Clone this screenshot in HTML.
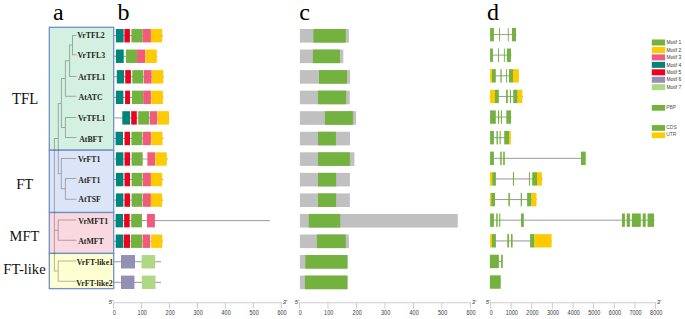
<!DOCTYPE html>
<html><head><meta charset="utf-8"><style>
html,body{margin:0;padding:0;background:#fff;}
body{width:685px;height:319px;overflow:hidden;}
svg{display:block;}
.lb{font-family:"Liberation Serif",serif;font-weight:bold;font-size:7.8px;fill:#231f20;}
.ax{font-family:"Liberation Sans",sans-serif;font-size:7px;fill:#3a3a3a;text-anchor:middle;}
.pr{font-family:"Liberation Sans",sans-serif;font-style:italic;font-size:6px;fill:#333;}
.lg{font-family:"Liberation Sans",sans-serif;font-size:6px;fill:#333;}
.lg2{font-family:"Liberation Sans",sans-serif;font-size:5px;fill:#555;}
.pl{font-family:"Liberation Serif",serif;font-size:24px;fill:#000;}
.gl{font-family:"Liberation Serif",serif;font-size:16px;fill:#111;}
</style></head><body>
<svg width="685" height="319" viewBox="0 0 685 319">
<rect x="0" y="0" width="685" height="319" fill="#fff"/>
<rect x="49.30" y="27.30" width="64.40" height="122.90" fill="#d4f0e1" stroke="#6f90c6" stroke-width="1.3"/>
<rect x="49.30" y="150.20" width="64.40" height="62.30" fill="#dce5f7" stroke="#6f90c6" stroke-width="1.3"/>
<rect x="49.30" y="212.50" width="64.40" height="40.90" fill="#f9d9df" stroke="#6f90c6" stroke-width="1.3"/>
<rect x="49.30" y="253.40" width="64.40" height="35.20" fill="#fefed3" stroke="#6f90c6" stroke-width="1.3"/>
<path d="M72.00 34.90H76.40V35.90H72.00ZM72.00 54.30H76.40V55.30H72.00ZM72.00 34.90H73.00V55.30H72.00ZM69.10 44.60H73.00V45.60H69.10ZM69.10 75.90H76.40V76.90H69.10ZM69.10 44.60H70.10V76.90H69.10ZM64.90 60.25H70.10V61.25H64.90ZM64.90 95.80H76.40V96.80H64.90ZM64.90 60.25H65.90V96.80H64.90ZM60.90 78.03H65.90V79.03H60.90ZM64.90 116.90H76.40V117.90H64.90ZM64.90 136.90H76.40V137.90H64.90ZM64.90 116.90H65.90V137.90H64.90ZM60.90 126.90H65.90V127.90H60.90ZM60.90 78.03H61.90V127.90H60.90ZM57.80 102.90H61.90V103.90H57.80ZM64.90 177.90H76.40V178.90H64.90ZM64.90 198.80H76.40V199.80H64.90ZM64.90 177.90H65.90V199.80H64.90ZM60.80 188.35H65.90V189.35H60.80ZM60.80 158.00H76.40V159.00H60.80ZM60.80 158.00H61.80V189.35H60.80ZM57.80 173.18H61.80V174.18H57.80ZM57.80 102.90H58.80V174.18H57.80ZM53.90 138.04H58.80V139.04H53.90ZM57.70 219.50H76.40V220.50H57.70ZM57.70 239.80H76.40V240.80H57.70ZM57.70 219.50H58.70V240.80H57.70ZM53.90 229.65H58.70V230.65H53.90ZM57.70 260.40H76.40V261.40H57.70ZM57.70 280.80H76.40V281.80H57.70ZM57.70 260.40H58.70V281.80H57.70ZM53.90 270.60H58.70V271.60H53.90ZM53.90 138.04H54.90V271.60H53.90Z" fill="#000000" fill-opacity="0.29"/>
<text x="77.18" y="38" class="lb">VrTFL2</text>
<text x="77.49" y="58" class="lb">VrTFL3</text>
<text x="78.21" y="80" class="lb">AtTFL1</text>
<text x="78.55" y="100" class="lb">AtATC</text>
<text x="77.94" y="121" class="lb">VrTFL1</text>
<text x="79.19" y="142" class="lb">AtBFT</text>
<text x="77.98" y="162" class="lb">VrFT1</text>
<text x="78.34" y="183" class="lb">AtFT1</text>
<text x="78.25" y="202" class="lb">AtTSF</text>
<text x="78.34" y="224" class="lb">VrMFT1</text>
<text x="78.19" y="244" class="lb">AtMFT</text>
<text x="76.68" y="265" class="lb">VrFT-like1</text>
<text x="76.27" y="286" class="lb">VrFT-like2</text>
<line x1="114.00" y1="35.70" x2="163.00" y2="35.70" stroke="#8c8c8c" stroke-width="0.9"/>
<rect x="115.90" y="29.00" width="7.70" height="13.40" fill="#00857a"/>
<rect x="124.40" y="29.00" width="5.50" height="13.40" fill="#eb0220"/>
<rect x="131.40" y="29.00" width="11.30" height="13.40" fill="#73b23e"/>
<rect x="142.80" y="29.00" width="8.10" height="13.40" fill="#ef5a7d"/>
<rect x="150.90" y="29.00" width="11.30" height="13.40" fill="#fdcb00"/>
<line x1="114.00" y1="56.25" x2="157.30" y2="56.25" stroke="#8c8c8c" stroke-width="0.9"/>
<rect x="115.90" y="49.55" width="7.80" height="13.40" fill="#00857a"/>
<rect x="125.90" y="49.55" width="11.20" height="13.40" fill="#73b23e"/>
<rect x="137.10" y="49.55" width="7.90" height="13.40" fill="#ef5a7d"/>
<rect x="145.30" y="49.55" width="11.50" height="13.40" fill="#fdcb00"/>
<line x1="114.00" y1="76.80" x2="163.90" y2="76.80" stroke="#8c8c8c" stroke-width="0.9"/>
<rect x="116.80" y="70.10" width="7.30" height="13.40" fill="#00857a"/>
<rect x="125.20" y="70.10" width="5.70" height="13.40" fill="#eb0220"/>
<rect x="132.30" y="70.10" width="11.10" height="13.40" fill="#73b23e"/>
<rect x="143.90" y="70.10" width="7.70" height="13.40" fill="#ef5a7d"/>
<rect x="152.00" y="70.10" width="11.30" height="13.40" fill="#fdcb00"/>
<line x1="114.00" y1="97.35" x2="163.60" y2="97.35" stroke="#8c8c8c" stroke-width="0.9"/>
<rect x="115.90" y="90.65" width="7.50" height="13.40" fill="#00857a"/>
<rect x="125.10" y="90.65" width="4.90" height="13.40" fill="#eb0220"/>
<rect x="131.90" y="90.65" width="11.30" height="13.40" fill="#73b23e"/>
<rect x="143.20" y="90.65" width="7.70" height="13.40" fill="#ef5a7d"/>
<rect x="151.30" y="90.65" width="11.60" height="13.40" fill="#fdcb00"/>
<line x1="114.00" y1="117.90" x2="169.20" y2="117.90" stroke="#c3c3c3" stroke-width="1.7"/>
<rect x="122.30" y="111.20" width="7.80" height="13.40" fill="#00857a"/>
<rect x="131.20" y="111.20" width="5.60" height="13.40" fill="#eb0220"/>
<rect x="138.20" y="111.20" width="11.00" height="13.40" fill="#73b23e"/>
<rect x="149.80" y="111.20" width="7.50" height="13.40" fill="#ef5a7d"/>
<rect x="157.70" y="111.20" width="11.30" height="13.40" fill="#fdcb00"/>
<line x1="114.00" y1="138.45" x2="163.60" y2="138.45" stroke="#8c8c8c" stroke-width="0.9"/>
<rect x="115.60" y="131.75" width="7.40" height="13.40" fill="#00857a"/>
<rect x="124.50" y="131.75" width="5.50" height="13.40" fill="#eb0220"/>
<rect x="131.40" y="131.75" width="11.00" height="13.40" fill="#73b23e"/>
<rect x="142.90" y="131.75" width="8.00" height="13.40" fill="#ef5a7d"/>
<rect x="151.20" y="131.75" width="11.30" height="13.40" fill="#fdcb00"/>
<line x1="114.00" y1="159.00" x2="167.80" y2="159.00" stroke="#c3c3c3" stroke-width="1.7"/>
<rect x="115.90" y="152.30" width="7.50" height="13.40" fill="#00857a"/>
<rect x="124.50" y="152.30" width="5.50" height="13.40" fill="#eb0220"/>
<rect x="131.60" y="152.30" width="11.10" height="13.40" fill="#73b23e"/>
<rect x="147.40" y="152.30" width="7.70" height="13.40" fill="#ef5a7d"/>
<rect x="155.40" y="152.30" width="11.40" height="13.40" fill="#fdcb00"/>
<line x1="114.00" y1="179.55" x2="163.30" y2="179.55" stroke="#8c8c8c" stroke-width="0.9"/>
<rect x="115.90" y="172.85" width="7.50" height="13.40" fill="#00857a"/>
<rect x="124.50" y="172.85" width="5.50" height="13.40" fill="#eb0220"/>
<rect x="131.60" y="172.85" width="10.80" height="13.40" fill="#73b23e"/>
<rect x="142.90" y="172.85" width="8.00" height="13.40" fill="#ef5a7d"/>
<rect x="150.90" y="172.85" width="11.30" height="13.40" fill="#fdcb00"/>
<line x1="114.00" y1="200.10" x2="163.30" y2="200.10" stroke="#8c8c8c" stroke-width="0.9"/>
<rect x="115.90" y="193.40" width="7.50" height="13.40" fill="#00857a"/>
<rect x="124.50" y="193.40" width="5.50" height="13.40" fill="#eb0220"/>
<rect x="131.60" y="193.40" width="10.80" height="13.40" fill="#73b23e"/>
<rect x="142.90" y="193.40" width="8.00" height="13.40" fill="#ef5a7d"/>
<rect x="150.90" y="193.40" width="11.30" height="13.40" fill="#fdcb00"/>
<line x1="114.00" y1="220.65" x2="269.90" y2="220.65" stroke="#8c8c8c" stroke-width="0.9"/>
<rect x="115.60" y="213.95" width="7.50" height="13.40" fill="#00857a"/>
<rect x="124.10" y="213.95" width="5.60" height="13.40" fill="#eb0220"/>
<rect x="131.20" y="213.95" width="10.80" height="13.40" fill="#73b23e"/>
<rect x="147.00" y="213.95" width="7.90" height="13.40" fill="#ef5a7d"/>
<line x1="114.00" y1="241.20" x2="163.00" y2="241.20" stroke="#8c8c8c" stroke-width="0.9"/>
<rect x="115.70" y="234.50" width="7.50" height="13.40" fill="#00857a"/>
<rect x="123.80" y="234.50" width="6.20" height="13.40" fill="#eb0220"/>
<rect x="131.00" y="234.50" width="11.20" height="13.40" fill="#73b23e"/>
<rect x="142.60" y="234.50" width="7.50" height="13.40" fill="#ef5a7d"/>
<rect x="151.10" y="234.50" width="11.20" height="13.40" fill="#fdcb00"/>
<line x1="114.00" y1="261.75" x2="161.10" y2="261.75" stroke="#8c8c8c" stroke-width="0.9"/>
<rect x="121.00" y="255.05" width="14.00" height="13.40" fill="#9490b1"/>
<rect x="141.60" y="255.05" width="13.60" height="13.40" fill="#afd884"/>
<line x1="114.00" y1="282.30" x2="161.00" y2="282.30" stroke="#8c8c8c" stroke-width="0.9"/>
<rect x="121.00" y="275.60" width="13.40" height="13.40" fill="#9490b1"/>
<rect x="141.80" y="275.60" width="13.70" height="13.40" fill="#afd884"/>
<rect x="299.90" y="29.00" width="49.00" height="13.60" fill="#c0c0c0"/>
<rect x="313.40" y="29.00" width="32.40" height="13.60" fill="#73b23e"/>
<rect x="299.90" y="49.55" width="43.40" height="13.60" fill="#c0c0c0"/>
<rect x="312.90" y="49.55" width="27.00" height="13.60" fill="#73b23e"/>
<rect x="299.90" y="70.10" width="50.20" height="13.60" fill="#c0c0c0"/>
<rect x="319.00" y="70.10" width="28.00" height="13.60" fill="#73b23e"/>
<rect x="299.90" y="90.65" width="49.90" height="13.60" fill="#c0c0c0"/>
<rect x="318.00" y="90.65" width="28.10" height="13.60" fill="#73b23e"/>
<rect x="299.90" y="111.20" width="56.10" height="13.60" fill="#c0c0c0"/>
<rect x="324.90" y="111.20" width="28.00" height="13.60" fill="#73b23e"/>
<rect x="299.90" y="131.75" width="50.10" height="13.60" fill="#c0c0c0"/>
<rect x="318.00" y="131.75" width="17.90" height="13.60" fill="#73b23e"/>
<rect x="299.90" y="152.30" width="54.50" height="13.60" fill="#c0c0c0"/>
<rect x="318.00" y="152.30" width="31.90" height="13.60" fill="#73b23e"/>
<rect x="299.90" y="172.85" width="50.00" height="13.60" fill="#c0c0c0"/>
<rect x="318.00" y="172.85" width="18.10" height="13.60" fill="#73b23e"/>
<rect x="299.90" y="193.40" width="50.00" height="13.60" fill="#c0c0c0"/>
<rect x="318.00" y="193.40" width="18.10" height="13.60" fill="#73b23e"/>
<rect x="299.90" y="213.95" width="157.90" height="13.60" fill="#c0c0c0"/>
<rect x="308.80" y="213.95" width="31.40" height="13.60" fill="#73b23e"/>
<rect x="299.90" y="234.50" width="49.00" height="13.60" fill="#c0c0c0"/>
<rect x="316.90" y="234.50" width="28.90" height="13.60" fill="#73b23e"/>
<rect x="299.90" y="255.05" width="47.60" height="13.60" fill="#c0c0c0"/>
<rect x="305.30" y="255.05" width="42.20" height="13.60" fill="#73b23e"/>
<rect x="299.90" y="275.60" width="47.60" height="13.60" fill="#c0c0c0"/>
<rect x="304.90" y="275.60" width="42.60" height="13.60" fill="#73b23e"/>
<line x1="489.90" y1="34.60" x2="516.50" y2="34.60" stroke="#8c8c8c" stroke-width="0.9"/>
<rect x="490.10" y="27.90" width="3.80" height="13.40" fill="#73b23e"/>
<rect x="499.00" y="27.90" width="0.90" height="13.40" fill="#73b23e"/>
<rect x="507.80" y="27.90" width="0.90" height="13.40" fill="#73b23e"/>
<rect x="512.00" y="27.90" width="4.00" height="13.40" fill="#73b23e"/>
<line x1="489.90" y1="55.22" x2="511.60" y2="55.22" stroke="#c3c3c3" stroke-width="1.7"/>
<rect x="490.10" y="48.52" width="2.80" height="13.40" fill="#73b23e"/>
<rect x="498.00" y="48.52" width="1.00" height="13.40" fill="#73b23e"/>
<rect x="503.90" y="48.52" width="0.90" height="13.40" fill="#73b23e"/>
<rect x="506.90" y="48.52" width="4.10" height="13.40" fill="#73b23e"/>
<line x1="489.90" y1="75.84" x2="519.00" y2="75.84" stroke="#8c8c8c" stroke-width="0.9"/>
<rect x="490.10" y="69.14" width="1.90" height="13.40" fill="#fdcb00"/>
<rect x="492.00" y="69.14" width="3.80" height="13.40" fill="#73b23e"/>
<rect x="500.40" y="69.14" width="1.30" height="13.40" fill="#73b23e"/>
<rect x="506.00" y="69.14" width="0.90" height="13.40" fill="#73b23e"/>
<rect x="509.00" y="69.14" width="4.00" height="13.40" fill="#73b23e"/>
<rect x="513.00" y="69.14" width="5.80" height="13.40" fill="#fdcb00"/>
<line x1="489.90" y1="96.46" x2="523.00" y2="96.46" stroke="#8c8c8c" stroke-width="0.9"/>
<rect x="490.10" y="89.76" width="4.90" height="13.40" fill="#fdcb00"/>
<rect x="495.00" y="89.76" width="3.80" height="13.40" fill="#73b23e"/>
<rect x="506.10" y="89.76" width="1.70" height="13.40" fill="#73b23e"/>
<rect x="509.90" y="89.76" width="1.10" height="13.40" fill="#73b23e"/>
<rect x="513.20" y="89.76" width="4.50" height="13.40" fill="#73b23e"/>
<rect x="517.70" y="89.76" width="4.70" height="13.40" fill="#fdcb00"/>
<line x1="489.90" y1="117.08" x2="511.50" y2="117.08" stroke="#c3c3c3" stroke-width="1.7"/>
<rect x="490.10" y="110.38" width="5.70" height="13.40" fill="#73b23e"/>
<rect x="498.00" y="110.38" width="1.20" height="13.40" fill="#73b23e"/>
<rect x="500.90" y="110.38" width="1.10" height="13.40" fill="#73b23e"/>
<rect x="506.30" y="110.38" width="4.70" height="13.40" fill="#73b23e"/>
<line x1="489.90" y1="137.70" x2="511.00" y2="137.70" stroke="#8c8c8c" stroke-width="0.9"/>
<rect x="490.10" y="131.00" width="3.80" height="13.40" fill="#73b23e"/>
<rect x="496.50" y="131.00" width="1.40" height="13.40" fill="#73b23e"/>
<rect x="499.60" y="131.00" width="1.10" height="13.40" fill="#73b23e"/>
<rect x="504.20" y="131.00" width="4.80" height="13.40" fill="#73b23e"/>
<rect x="509.00" y="131.00" width="1.80" height="13.40" fill="#fdcb00"/>
<line x1="489.90" y1="158.32" x2="585.70" y2="158.32" stroke="#8c8c8c" stroke-width="0.9"/>
<rect x="490.10" y="151.62" width="3.80" height="13.40" fill="#73b23e"/>
<rect x="500.20" y="151.62" width="1.50" height="13.40" fill="#73b23e"/>
<rect x="503.20" y="151.62" width="1.60" height="13.40" fill="#73b23e"/>
<rect x="581.00" y="151.62" width="4.70" height="13.40" fill="#73b23e"/>
<line x1="489.90" y1="178.94" x2="542.70" y2="178.94" stroke="#c3c3c3" stroke-width="1.7"/>
<rect x="489.90" y="172.24" width="2.30" height="13.40" fill="#fdcb00"/>
<rect x="492.20" y="172.24" width="3.70" height="13.40" fill="#73b23e"/>
<rect x="512.90" y="172.24" width="1.10" height="13.40" fill="#73b23e"/>
<rect x="528.90" y="172.24" width="1.00" height="13.40" fill="#73b23e"/>
<rect x="532.20" y="172.24" width="4.80" height="13.40" fill="#73b23e"/>
<rect x="537.00" y="172.24" width="4.90" height="13.40" fill="#fdcb00"/>
<line x1="489.90" y1="199.56" x2="536.80" y2="199.56" stroke="#8c8c8c" stroke-width="0.9"/>
<rect x="489.90" y="192.86" width="1.30" height="13.40" fill="#fdcb00"/>
<rect x="491.20" y="192.86" width="3.80" height="13.40" fill="#73b23e"/>
<rect x="508.40" y="192.86" width="1.50" height="13.40" fill="#73b23e"/>
<rect x="520.70" y="192.86" width="1.30" height="13.40" fill="#73b23e"/>
<rect x="527.10" y="192.86" width="4.50" height="13.40" fill="#73b23e"/>
<rect x="531.60" y="192.86" width="4.90" height="13.40" fill="#fdcb00"/>
<line x1="489.90" y1="220.18" x2="654.70" y2="220.18" stroke="#8c8c8c" stroke-width="0.9"/>
<rect x="490.10" y="213.48" width="3.80" height="13.40" fill="#73b23e"/>
<rect x="496.20" y="213.48" width="1.50" height="13.40" fill="#73b23e"/>
<rect x="499.20" y="213.48" width="1.10" height="13.40" fill="#73b23e"/>
<rect x="521.00" y="213.48" width="2.80" height="13.40" fill="#73b23e"/>
<rect x="622.00" y="213.48" width="2.90" height="13.40" fill="#73b23e"/>
<rect x="626.70" y="213.48" width="3.20" height="13.40" fill="#73b23e"/>
<rect x="631.90" y="213.48" width="8.90" height="13.40" fill="#73b23e"/>
<rect x="642.70" y="213.48" width="3.00" height="13.40" fill="#73b23e"/>
<rect x="647.60" y="213.48" width="6.40" height="13.40" fill="#73b23e"/>
<line x1="489.90" y1="240.80" x2="551.60" y2="240.80" stroke="#c3c3c3" stroke-width="1.7"/>
<rect x="490.10" y="234.10" width="1.80" height="13.40" fill="#fdcb00"/>
<rect x="491.90" y="234.10" width="4.00" height="13.40" fill="#73b23e"/>
<rect x="507.30" y="234.10" width="1.70" height="13.40" fill="#73b23e"/>
<rect x="511.00" y="234.10" width="1.60" height="13.40" fill="#73b23e"/>
<rect x="530.10" y="234.10" width="4.40" height="13.40" fill="#73b23e"/>
<rect x="534.50" y="234.10" width="17.10" height="13.40" fill="#fdcb00"/>
<line x1="489.90" y1="261.42" x2="502.80" y2="261.42" stroke="#8c8c8c" stroke-width="0.9"/>
<rect x="489.90" y="254.72" width="9.00" height="13.40" fill="#73b23e"/>
<rect x="501.10" y="254.72" width="1.70" height="13.40" fill="#73b23e"/>
<line x1="489.90" y1="282.04" x2="500.70" y2="282.04" stroke="#8c8c8c" stroke-width="0.9"/>
<rect x="489.90" y="275.34" width="10.80" height="13.40" fill="#73b23e"/>
<line x1="113.00" y1="302.70" x2="281.90" y2="302.70" stroke="#cdcdcd" stroke-width="1.1"/>
<line x1="113.50" y1="302.70" x2="113.50" y2="308.60" stroke="#cdcdcd" stroke-width="1.0"/>
<text x="114.20" y="314.6" class="ax" textLength="3.05" lengthAdjust="spacingAndGlyphs">0</text>
<line x1="141.48" y1="302.70" x2="141.48" y2="308.60" stroke="#cdcdcd" stroke-width="1.0"/>
<text x="142.18" y="314.6" class="ax" textLength="9.15" lengthAdjust="spacingAndGlyphs">100</text>
<line x1="169.47" y1="302.70" x2="169.47" y2="308.60" stroke="#cdcdcd" stroke-width="1.0"/>
<text x="170.17" y="314.6" class="ax" textLength="9.15" lengthAdjust="spacingAndGlyphs">200</text>
<line x1="197.45" y1="302.70" x2="197.45" y2="308.60" stroke="#cdcdcd" stroke-width="1.0"/>
<text x="198.15" y="314.6" class="ax" textLength="9.15" lengthAdjust="spacingAndGlyphs">300</text>
<line x1="225.43" y1="302.70" x2="225.43" y2="308.60" stroke="#cdcdcd" stroke-width="1.0"/>
<text x="226.13" y="314.6" class="ax" textLength="9.15" lengthAdjust="spacingAndGlyphs">400</text>
<line x1="253.42" y1="302.70" x2="253.42" y2="308.60" stroke="#cdcdcd" stroke-width="1.0"/>
<text x="254.12" y="314.6" class="ax" textLength="9.15" lengthAdjust="spacingAndGlyphs">500</text>
<line x1="281.40" y1="302.70" x2="281.40" y2="308.60" stroke="#cdcdcd" stroke-width="1.0"/>
<text x="282.10" y="314.6" class="ax" textLength="9.15" lengthAdjust="spacingAndGlyphs">600</text>
<text x="113.10" y="304.1" class="pr" text-anchor="end" textLength="4.4" lengthAdjust="spacingAndGlyphs">5'</text>
<text x="282.70" y="304.1" class="pr" textLength="4.4" lengthAdjust="spacingAndGlyphs">3'</text>
<line x1="299.00" y1="302.70" x2="470.90" y2="302.70" stroke="#cdcdcd" stroke-width="1.1"/>
<line x1="299.50" y1="302.70" x2="299.50" y2="308.60" stroke="#cdcdcd" stroke-width="1.0"/>
<text x="300.20" y="314.6" class="ax" textLength="3.05" lengthAdjust="spacingAndGlyphs">0</text>
<line x1="327.98" y1="302.70" x2="327.98" y2="308.60" stroke="#cdcdcd" stroke-width="1.0"/>
<text x="328.68" y="314.6" class="ax" textLength="9.15" lengthAdjust="spacingAndGlyphs">100</text>
<line x1="356.47" y1="302.70" x2="356.47" y2="308.60" stroke="#cdcdcd" stroke-width="1.0"/>
<text x="357.17" y="314.6" class="ax" textLength="9.15" lengthAdjust="spacingAndGlyphs">200</text>
<line x1="384.95" y1="302.70" x2="384.95" y2="308.60" stroke="#cdcdcd" stroke-width="1.0"/>
<text x="385.65" y="314.6" class="ax" textLength="9.15" lengthAdjust="spacingAndGlyphs">300</text>
<line x1="413.43" y1="302.70" x2="413.43" y2="308.60" stroke="#cdcdcd" stroke-width="1.0"/>
<text x="414.13" y="314.6" class="ax" textLength="9.15" lengthAdjust="spacingAndGlyphs">400</text>
<line x1="441.92" y1="302.70" x2="441.92" y2="308.60" stroke="#cdcdcd" stroke-width="1.0"/>
<text x="442.62" y="314.6" class="ax" textLength="9.15" lengthAdjust="spacingAndGlyphs">500</text>
<line x1="470.40" y1="302.70" x2="470.40" y2="308.60" stroke="#cdcdcd" stroke-width="1.0"/>
<text x="471.10" y="314.6" class="ax" textLength="9.15" lengthAdjust="spacingAndGlyphs">600</text>
<text x="299.10" y="304.1" class="pr" text-anchor="end" textLength="4.4" lengthAdjust="spacingAndGlyphs">5'</text>
<text x="471.70" y="304.1" class="pr" textLength="4.4" lengthAdjust="spacingAndGlyphs">3'</text>
<line x1="490.00" y1="302.70" x2="656.00" y2="302.70" stroke="#cdcdcd" stroke-width="1.1"/>
<line x1="490.50" y1="302.70" x2="490.50" y2="308.60" stroke="#cdcdcd" stroke-width="1.0"/>
<text x="491.20" y="314.6" class="ax" textLength="3.05" lengthAdjust="spacingAndGlyphs">0</text>
<line x1="511.12" y1="302.70" x2="511.12" y2="308.60" stroke="#cdcdcd" stroke-width="1.0"/>
<text x="511.82" y="314.6" class="ax" textLength="12.20" lengthAdjust="spacingAndGlyphs">1000</text>
<line x1="531.75" y1="302.70" x2="531.75" y2="308.60" stroke="#cdcdcd" stroke-width="1.0"/>
<text x="532.45" y="314.6" class="ax" textLength="12.20" lengthAdjust="spacingAndGlyphs">2000</text>
<line x1="552.38" y1="302.70" x2="552.38" y2="308.60" stroke="#cdcdcd" stroke-width="1.0"/>
<text x="553.08" y="314.6" class="ax" textLength="12.20" lengthAdjust="spacingAndGlyphs">3000</text>
<line x1="573.00" y1="302.70" x2="573.00" y2="308.60" stroke="#cdcdcd" stroke-width="1.0"/>
<text x="573.70" y="314.6" class="ax" textLength="12.20" lengthAdjust="spacingAndGlyphs">4000</text>
<line x1="593.62" y1="302.70" x2="593.62" y2="308.60" stroke="#cdcdcd" stroke-width="1.0"/>
<text x="594.33" y="314.6" class="ax" textLength="12.20" lengthAdjust="spacingAndGlyphs">5000</text>
<line x1="614.25" y1="302.70" x2="614.25" y2="308.60" stroke="#cdcdcd" stroke-width="1.0"/>
<text x="614.95" y="314.6" class="ax" textLength="12.20" lengthAdjust="spacingAndGlyphs">6000</text>
<line x1="634.88" y1="302.70" x2="634.88" y2="308.60" stroke="#cdcdcd" stroke-width="1.0"/>
<text x="635.58" y="314.6" class="ax" textLength="12.20" lengthAdjust="spacingAndGlyphs">7000</text>
<line x1="655.50" y1="302.70" x2="655.50" y2="308.60" stroke="#cdcdcd" stroke-width="1.0"/>
<text x="656.20" y="314.6" class="ax" textLength="12.20" lengthAdjust="spacingAndGlyphs">8000</text>
<text x="490.10" y="304.1" class="pr" text-anchor="end" textLength="4.4" lengthAdjust="spacingAndGlyphs">5'</text>
<text x="656.80" y="304.1" class="pr" textLength="4.4" lengthAdjust="spacingAndGlyphs">3'</text>
<rect x="651.80" y="39.50" width="13.30" height="6.00" fill="#73b23e"/>
<text x="666.5" y="44.20" class="lg" textLength="14.6" lengthAdjust="spacingAndGlyphs">Motif 1</text>
<rect x="651.80" y="46.95" width="13.30" height="6.00" fill="#fdcb00"/>
<text x="666.5" y="51.65" class="lg" textLength="14.6" lengthAdjust="spacingAndGlyphs">Motif 2</text>
<rect x="651.80" y="54.40" width="13.30" height="6.00" fill="#ef5a7d"/>
<text x="666.5" y="59.10" class="lg" textLength="14.6" lengthAdjust="spacingAndGlyphs">Motif 3</text>
<rect x="651.80" y="61.85" width="13.30" height="6.00" fill="#00857a"/>
<text x="666.5" y="66.55" class="lg" textLength="14.6" lengthAdjust="spacingAndGlyphs">Motif 4</text>
<rect x="651.80" y="69.30" width="13.30" height="6.00" fill="#eb0220"/>
<text x="666.5" y="74.00" class="lg" textLength="14.6" lengthAdjust="spacingAndGlyphs">Motif 5</text>
<rect x="651.80" y="76.75" width="13.30" height="6.00" fill="#9490b1"/>
<text x="666.5" y="81.45" class="lg" textLength="14.6" lengthAdjust="spacingAndGlyphs">Motif 6</text>
<rect x="651.80" y="84.20" width="13.30" height="6.00" fill="#afd884"/>
<text x="666.5" y="88.90" class="lg" textLength="14.6" lengthAdjust="spacingAndGlyphs">Motif 7</text>
<rect x="651.80" y="105.00" width="13.30" height="5.70" fill="#73b23e"/>
<text x="666.2" y="108.70" class="lg2">PBP</text>
<rect x="651.80" y="125.10" width="13.30" height="5.70" fill="#73b23e"/>
<text x="666.2" y="128.80" class="lg2">CDS</text>
<rect x="651.80" y="132.40" width="13.30" height="5.70" fill="#fdcb00"/>
<text x="666.2" y="136.10" class="lg2">UTR</text>
<text x="52.9" y="19.6" class="pl">a</text>
<text x="117.6" y="19.6" class="pl">b</text>
<text x="299.2" y="19.6" class="pl">c</text>
<text x="487.0" y="19.6" class="pl">d</text>
<text x="12.0" y="103.8" class="gl" style="font-size:16px" textLength="26.3" lengthAdjust="spacingAndGlyphs">TFL</text>
<text x="16.2" y="189.3" class="gl" style="font-size:15.5px" textLength="17.1" lengthAdjust="spacingAndGlyphs">FT</text>
<text x="9.6" y="240.6" class="gl" style="font-size:15.5px" textLength="29.6" lengthAdjust="spacingAndGlyphs">MFT</text>
<text x="3.3" y="274.4" class="gl" style="font-size:15.5px" textLength="42.3" lengthAdjust="spacingAndGlyphs">FT-like</text>
</svg>
</body></html>
